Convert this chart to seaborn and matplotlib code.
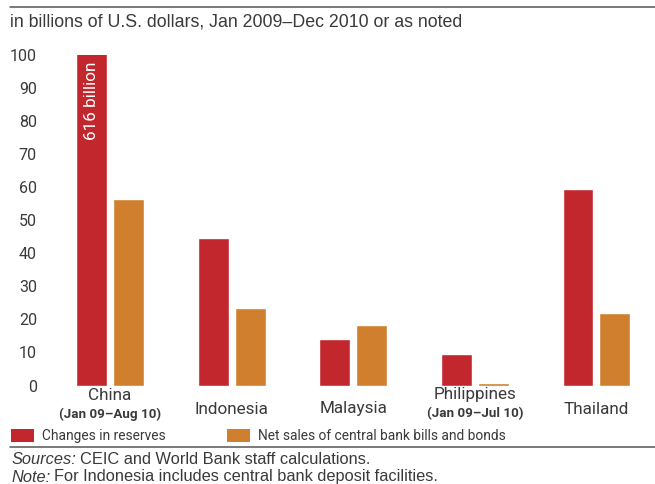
import matplotlib
matplotlib.use("Agg")
import matplotlib.pyplot as plt
import matplotlib.transforms as mtransforms
from matplotlib.patches import Patch
from matplotlib.lines import Line2D
import seaborn as sns
import pandas as pd

# ---- data ----
countries = ["China", "Indonesia", "Malaysia", "Philippines", "Thailand"]
country_notes = ["(Jan 09\u2013Aug 10)", "", "", "(Jan 09\u2013Jul 10)", ""]
reserves = [616, 44.6, 14.1, 9.5, 59.5]
net_sales = [56.4, 23.4, 18.3, 0.8, 21.9]
series_names = ["Changes in reserves", "Net sales of central bank bills and bonds"]
yticks = [0, 10, 20, 30, 40, 50, 60, 70, 80, 90, 100]
china_annotation = "616 billion"
subtitle = "in billions of U.S. dollars, Jan 2009\u2013Dec 2010 or as noted"

RED = "#c1272d"
ORANGE = "#cf7f2e"
TXT = "#3a3a3a"

sns.set_theme(style="white")
NARROW = ["Roboto", "DejaVu Sans"]
REG = ["Liberation Sans", "DejaVu Sans"]
plt.rcParams["font.family"] = NARROW

df = pd.DataFrame({
    "country": countries * 2,
    "value": reserves + net_sales,
    "series": [series_names[0]] * len(countries) + [series_names[1]] * len(countries),
})

W, H = 655, 484
fig = plt.figure(figsize=(W / 100, H / 100), dpi=100)
ax_left, ax_right = 55, 645
ax_top, ax_bot = 55, 385.5
ax = fig.add_axes([ax_left / W, (H - ax_bot) / H, (ax_right - ax_left) / W, (ax_bot - ax_top) / H])

sns.barplot(data=df, x="country", y="value", hue="series", palette=[RED, ORANGE],
            width=0.608, gap=0.162, saturation=1, errorbar=None, legend=False, ax=ax)

unit = 121.6
ax.set_xlim(-(110 - ax_left) / unit, 4 + (ax_right - 596.5) / unit)
ax.set_ylim(0, 100)
ax.set_yticks(yticks)
ax.set_yticklabels([str(t) for t in yticks], fontsize=11.5, color=TXT)
ax.tick_params(axis="y", length=0, pad=13)
ax.set_xticks([])
ax.set_xlabel("")
ax.set_ylabel("")
for s in ax.spines.values():
    s.set_visible(False)

# category labels
trans = mtransforms.blended_transform_factory(ax.transData, fig.transFigure)
for i, (name, note) in enumerate(zip(countries, country_notes)):
    if note:
        ax.text(i, 1 - 395 / H, name, transform=trans, ha="center", va="center",
                fontsize=12.3, color=TXT)
        ax.text(i, 1 - 414 / H, note, transform=trans, ha="center", va="center",
                fontsize=9.6, fontweight="bold", color=TXT)
    else:
        ax.text(i, 1 - 409 / H, name, transform=trans, ha="center", va="center",
                fontsize=12.3, color=TXT)

# annotation inside the clipped China bar
red_bar = ax.patches[0]
cx = red_bar.get_x() + red_bar.get_width() / 2
ax.text(cx, 1 - 101 / H, china_annotation, transform=trans, rotation=90,
        ha="center", va="center", fontsize=12.3, color="white")

# subtitle & rules
fig.text(10 / W, 1 - 22 / H, subtitle, ha="left", va="center", fontsize=12.8,
         color=TXT, family=REG)
fig.add_artist(Line2D([10 / W, 1], [1 - 7 / H, 1 - 7 / H], color="#555555", lw=1.1))
fig.add_artist(Line2D([10 / W, 1], [1 - 447 / H, 1 - 447 / H], color="#555555", lw=1.1))

# legend: two entries placed at their own positions
leg_fs = 9.95
fs_px = leg_fs * 100 / 72
for x_px, color, label in [(11, RED, series_names[0]), (227, ORANGE, series_names[1])]:
    leg = fig.legend([Patch(facecolor=color, edgecolor="none")], [label],
                     loc="center left", bbox_to_anchor=(x_px / W, 1 - 436 / H),
                     frameon=False, fontsize=leg_fs, handlelength=23 / fs_px,
                     handleheight=15 / fs_px, handletextpad=8 / fs_px,
                     borderaxespad=0, borderpad=0)
    for t in leg.get_texts():
        t.set_color(TXT)

# footnotes
r = fig.canvas.get_renderer()
def footnote(label, y, txt):
    t0 = fig.text(12 / W, 1 - y / H, label, ha="left", va="center", fontsize=11.8,
                  style="italic", color=TXT, family=REG)
    bb = t0.get_window_extent(renderer=r)
    fig.text(bb.x1 / W + 3 / W, 1 - y / H, txt, ha="left", va="center", fontsize=11.8,
             color=TXT, family=REG)
footnote("Sources:", 460, "CEIC and World Bank staff calculations.")
footnote("Note:", 477, "For Indonesia includes central bank deposit facilities.")

fig.savefig("out.png", dpi=100)
